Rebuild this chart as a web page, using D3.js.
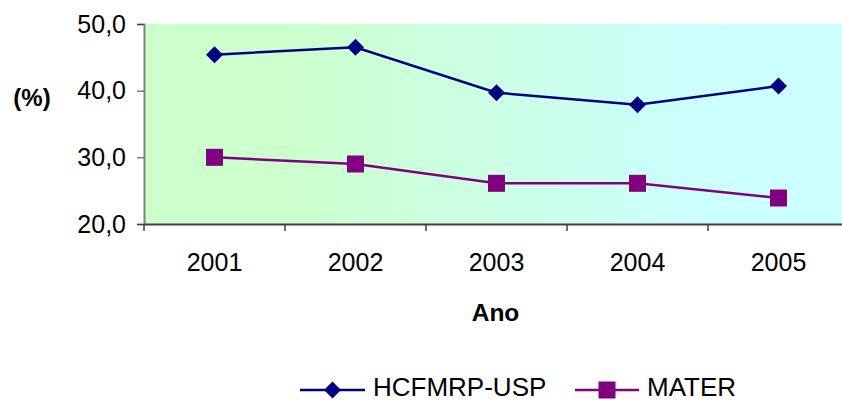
<!DOCTYPE html>
<html><head><meta charset="utf-8">
<script src="https://cdn.jsdelivr.net/npm/d3@7"></script>
<style>body{margin:0;background:#fff}svg{display:block;font-family:Arial,"Liberation Sans",sans-serif}</style>
</head><body><svg id="c" width="842" height="400"></svg>
<script>
const years = ["2001","2002","2003","2004","2005"];
const hcfmrp = [45.4, 46.5, 39.7, 37.9, 40.7];
const mater = [30.0, 29.0, 26.1, 26.1, 23.9];
const yTicks = [20, 30, 40, 50];
const seriesNames = ["HCFMRP-USP", "MATER"];
const seriesColors = ["#000080", "#800080"];

const svg = d3.select("#c");
const pL = 144, pR = 849, pT = 24, pB = 224;
const x = d3.scaleBand().domain(years).range([pL, pR]);
const y = d3.scaleLinear().domain([20, 50]).range([pB, pT]);

const defs = svg.append("defs");
const g = defs.append("linearGradient").attr("id","bg").attr("x1","0").attr("x2","1").attr("y1","0").attr("y2","0");
g.append("stop").attr("offset","0").attr("stop-color","#CCFFCC");
g.append("stop").attr("offset","0.2").attr("stop-color","#CCFFCC");
g.append("stop").attr("offset","0.8").attr("stop-color","#CCFFFF");
g.append("stop").attr("offset","1").attr("stop-color","#CCFFFF");
svg.append("rect").attr("x",pL).attr("y",pT).attr("width",pR-pL).attr("height",pB-pT).attr("fill","url(#bg)");

// y axis
const ya = svg.append("g").attr("transform",`translate(${pL},0)`)
  .call(d3.axisLeft(y).tickValues(yTicks).tickSize(7).tickPadding(11).tickFormat(d => d3.format(".1f")(d).replace(".", ",")));
ya.select(".domain").attr("stroke","#808080").attr("stroke-width",2);
ya.selectAll(".tick line").attr("stroke","#404040");
ya.selectAll("text").attr("font-size",25).attr("font-family","Arial, 'Liberation Sans', sans-serif").attr("fill","#000");

// x axis
const xa = svg.append("g").attr("transform",`translate(0,${pB})`)
  .call(d3.axisBottom(x).tickSize(0).tickPadding(29));
xa.select(".domain").attr("stroke","#404040").attr("stroke-width",2);
xa.selectAll("text").attr("font-size",25).attr("font-family","Arial, 'Liberation Sans', sans-serif").attr("fill","#000");
xa.selectAll(".sep").data(years.concat(["end"])).enter().append("line")
  .attr("x1",(d,i)=> pL + i*x.bandwidth()).attr("x2",(d,i)=> pL + i*x.bandwidth())
  .attr("y1",0).attr("y2",7).attr("stroke","#404040").attr("stroke-width",1.5);

svg.append("text").attr("x",32).attr("y",106).attr("text-anchor","middle").attr("font-weight","bold").attr("font-size",24).text("(%)");
svg.append("text").attr("x",495.5).attr("y",321).attr("text-anchor","middle").attr("font-weight","bold").attr("font-size",24.5).text("Ano");

const cx = d => x(d) + x.bandwidth()/2;
const line = d3.line().x((d,i)=>cx(years[i])).y(d=>y(d));
const data = [hcfmrp, mater];
const diamond = d3.symbol().type(d3.symbolSquare).size(144);

data.forEach((s,k)=>{
  svg.append("path").attr("d",line(s)).attr("fill","none").attr("stroke",seriesColors[k]).attr("stroke-width",2.5);
});
svg.selectAll(".dm").data(hcfmrp).enter().append("path")
  .attr("d", diamond).attr("fill",seriesColors[0])
  .attr("transform",(d,i)=>`translate(${cx(years[i])},${y(d)}) rotate(45)`);
svg.selectAll(".sq").data(mater).enter().append("rect")
  .attr("x",(d,i)=>cx(years[i])-8.5).attr("y",d=>y(d)-8.5).attr("width",17).attr("height",17)
  .attr("fill",seriesColors[1]);

const leg = [{x1:300,x2:365,tx:373},{x1:575,x2:639,tx:647}];
leg.forEach((l,k)=>{
  const ly = 390;
  svg.append("line").attr("x1",l.x1).attr("x2",l.x2).attr("y1",ly).attr("y2",ly).attr("stroke",seriesColors[k]).attr("stroke-width",2.5);
  const mx = (l.x1+l.x2)/2;
  if(k===0){
    svg.append("path").attr("d",diamond).attr("fill",seriesColors[0]).attr("transform",`translate(${mx},${ly}) rotate(45)`);
  } else {
    svg.append("rect").attr("x",mx-8.5).attr("y",ly-8.5).attr("width",17).attr("height",17).attr("fill",seriesColors[1]);
  }
  svg.append("text").attr("x",l.tx).attr("y",395.5).attr("font-size",26).text(seriesNames[k]);
});
</script></body></html>
